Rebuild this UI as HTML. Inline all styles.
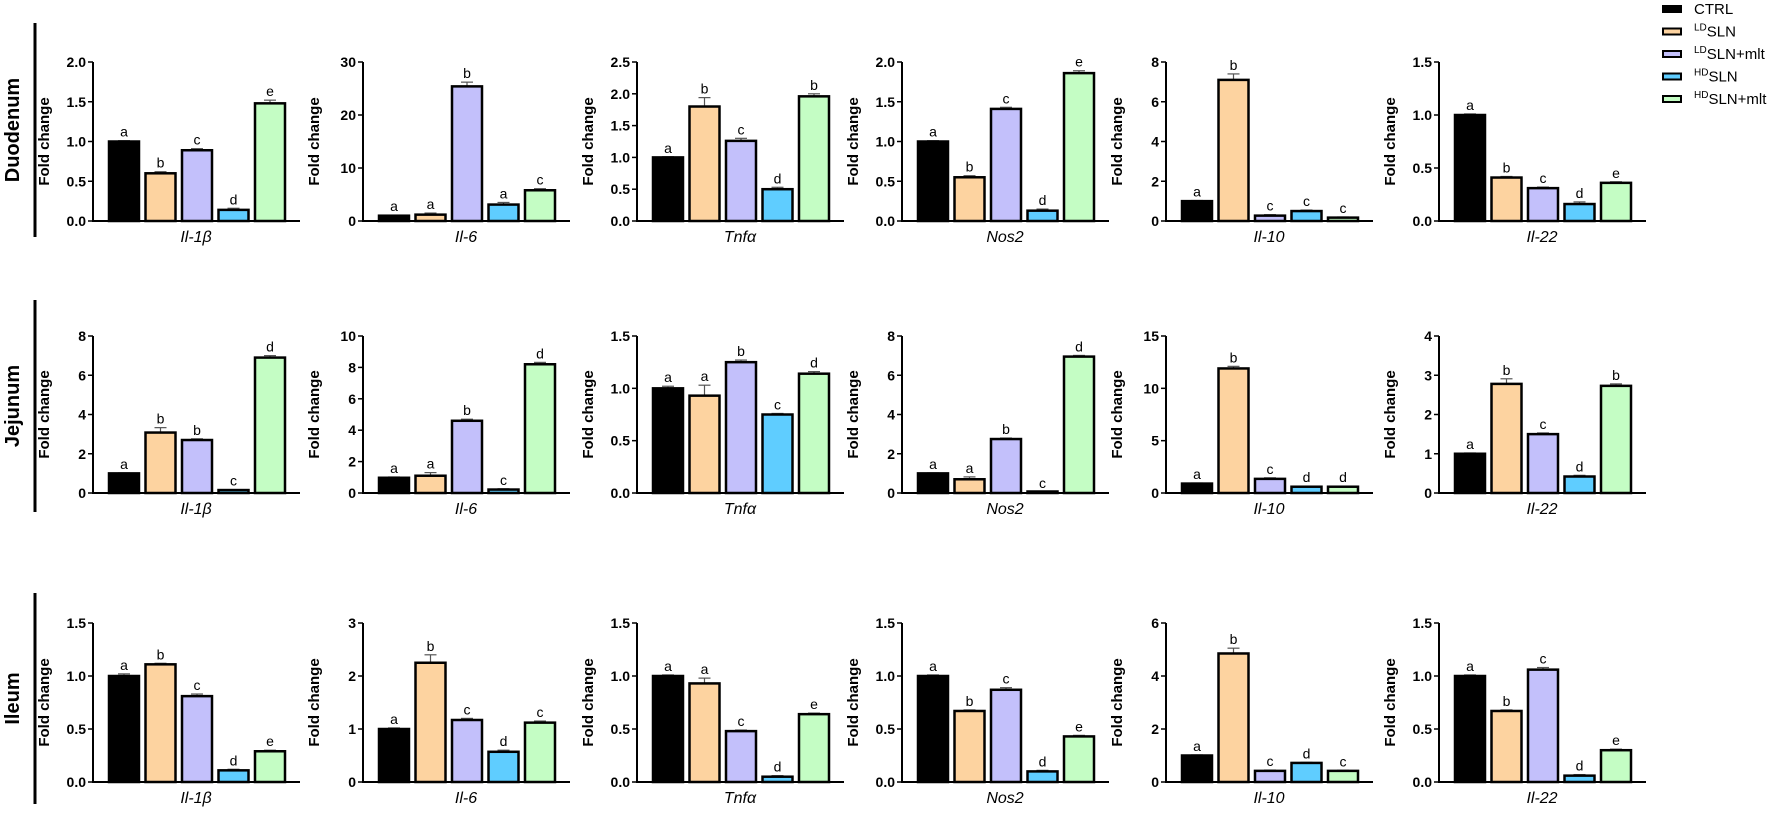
<!DOCTYPE html>
<html><head><meta charset="utf-8"><style>
html,body{margin:0;padding:0;background:#fff;}
svg{display:block;font-family:"Liberation Sans",Arial,sans-serif;}
</style></head><body>
<svg id="s" width="1772" height="814" viewBox="0 0 1772 814" xmlns="http://www.w3.org/2000/svg"></svg>
<script>
const cols=["#000000","#FDD3A0","#C3C0FB","#5FCDFF","#C4FDC4"];
const ax=[93,363,637,902,1166,1439];
const rows=[{top:62,zero:221,name:"Duodenum",l1:23,l2:237},{top:336,zero:493,name:"Jejunum",l1:300,l2:512},{top:623,zero:782,name:"Ileum",l1:593,l2:804}];
const genes=["Il-1β","Il-6","Tnfα","Nos2","Il-10","Il-22"];
const D=[
[[2,0.5,1,[1,0.6,0.89,0.14,1.48],[.01,.02,.02,.02,.04],"abcde"],
 [30,10,0,[1,1.2,25.4,3.1,5.8],[.1,.3,.8,.4,.3],"aabac"],
 [2.5,0.5,1,[1,1.8,1.26,0.5,1.96],[.01,.14,.04,.03,.04],"abcdb"],
 [2,0.5,1,[1,0.55,1.41,0.13,1.86],[.01,.02,.02,.02,.03],"abcde"],
 [8,2,0,[1,7.1,0.27,0.5,0.17],[.03,.3,.05,.05,.03],"abccc"],
 [1.5,0.5,1,[1,0.41,0.31,0.16,0.36],[.01,.01,.01,.02,.01],"abcde"]],
[[8,2,0,[1,3.08,2.7,0.15,6.9],[.02,.25,.06,.02,.1],"abbcd"],
 [10,2,0,[0.97,1.1,4.6,0.22,8.2],[.05,.2,.1,.05,.12],"aabcd"],
 [1.5,0.5,1,[1,0.93,1.25,0.75,1.14],[.02,.1,.02,.01,.02],"aabcd"],
 [8,2,0,[1,0.7,2.75,0.03,6.95],[.02,.12,.05,.01,.06],"aabcd"],
 [15,5,0,[0.9,11.9,1.35,0.6,0.6],[.05,.2,.1,.05,.05],"abcdd"],
 [4,1,0,[1,2.78,1.5,0.42,2.73],[.02,.13,.03,.03,.05],"abcdb"]],
[[1.5,0.5,1,[1,1.11,0.81,0.11,0.29],[.02,.01,.02,.01,.01],"abcde"],
 [3,1,0,[1,2.25,1.17,0.57,1.12],[.02,.15,.03,.03,.03],"abcdc"],
 [1.5,0.5,1,[1,0.93,0.48,0.05,0.64],[.01,.05,.01,.01,.01],"aacde"],
 [1.5,0.5,1,[1,0.67,0.87,0.1,0.43],[.01,.01,.02,.01,.01],"abcde"],
 [6,2,0,[1,4.85,0.42,0.72,0.42],[.02,.2,.03,.02,.02],"abcdc"],
 [1.5,0.5,1,[1,0.67,1.06,0.06,0.3],[.01,.01,.02,.01,.01],"abcde"]]
];
let h="";
rows.forEach((r,ri)=>{
  h+=`<line x1="35" y1="${r.l1}" x2="35" y2="${r.l2}" stroke="#000" stroke-width="3"/>`;
  const cy=(r.l1+r.l2)/2;
  h+=`<text x="19" y="${cy}" transform="rotate(-90 19 ${cy})" text-anchor="middle" font-size="20" font-weight="bold">${r.name}</text>`;
  D[ri].forEach((p,ci)=>{
    const [mx,st,dec,v,e,lt]=p; const x0=ax[ci]; const H=r.zero-r.top;
    const Y=val=>r.zero-val/mx*H;
    h+=`<line x1="${x0}" y1="${r.top}" x2="${x0}" y2="${r.zero+1}" stroke="#000" stroke-width="2"/>`;
    h+=`<line x1="${x0-1}" y1="${r.zero}" x2="${x0+207}" y2="${r.zero}" stroke="#000" stroke-width="2"/>`;
    for(let t=0;t<=mx+1e-9;t+=st){
      const y=Y(t);
      h+=`<line x1="${x0-5}" y1="${y}" x2="${x0}" y2="${y}" stroke="#000" stroke-width="1.5"/>`;
      h+=`<text x="${x0-7}" y="${y+5}" text-anchor="end" font-size="14" font-weight="bold">${t.toFixed(dec)}</text>`;
    }
    const my=(r.top+r.zero)/2;
    h+=`<text x="${x0-44}" y="${my}" transform="rotate(-90 ${x0-44} ${my})" text-anchor="middle" font-size="15" font-weight="bold">Fold change</text>`;
    for(let i=0;i<5;i++){
      const bx=x0+16+i*36.5, w=30, y=Y(v[i]), ey=Y(v[i]+e[i]);
      h+=`<line x1="${bx+w/2}" y1="${y}" x2="${bx+w/2}" y2="${ey}" stroke="#555" stroke-width="1.2"/>`;
      h+=`<line x1="${bx+w/2-6}" y1="${ey}" x2="${bx+w/2+6}" y2="${ey}" stroke="#555" stroke-width="1.2"/>`;
      const bh=Math.max(r.zero-y,1.5);
      h+=`<rect x="${bx}" y="${r.zero-bh}" width="${w}" height="${bh}" fill="${cols[i]}" stroke="#000" stroke-width="2.5"/>`;
      h+=`<text x="${bx+w/2}" y="${ey-4}" text-anchor="middle" font-size="14">${lt[i]}</text>`;
    }
    h+=`<text x="${x0+103}" y="${r.zero+21}" text-anchor="middle" font-size="16" font-style="italic">${genes[ci]}</text>`;
  });
});
const leg=[["CTRL",""],["SLN","LD"],["SLN+mlt","LD"],["SLN","HD"],["SLN+mlt","HD"]];
leg.forEach((l,i)=>{
  const y=9+i*22.5;
  h+=`<rect x="1663" y="${y-3}" width="18" height="6" fill="${cols[i]}" stroke="#000" stroke-width="2"/>`;
  if(l[1]) h+=`<text x="1694" y="${y+5}" font-size="15"><tspan font-size="10" dy="-6">${l[1]}</tspan><tspan dy="6">${l[0]}</tspan></text>`;
  else h+=`<text x="1694" y="${y+5}" font-size="15">${l[0]}</text>`;
});
document.getElementById("s").innerHTML=h;
</script>
</body></html>
